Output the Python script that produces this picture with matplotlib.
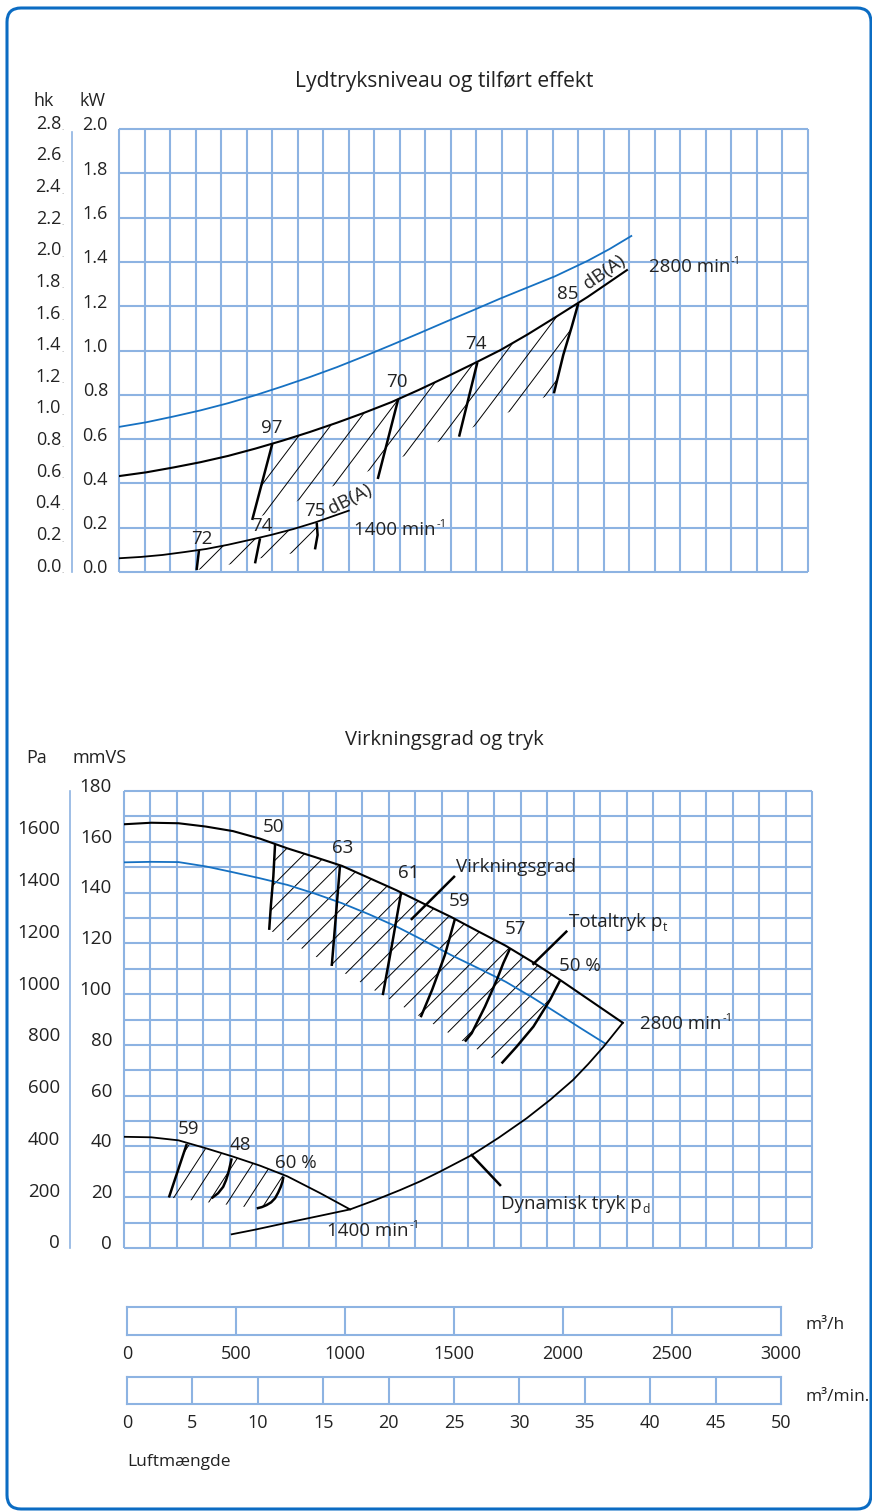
import numpy as np
import matplotlib
matplotlib.use("Agg")
import matplotlib.pyplot as plt
from matplotlib.patches import Polygon, FancyBboxPatch
from matplotlib.lines import Line2D
from matplotlib.transforms import Affine2D

plt.rcParams['font.family'] = ['Open Sans', 'DejaVu Sans']

GRID = '#8db3e2'
BLUE = '#1671c2'
FRAME = '#0b6cc3'
TXT = '#222222'

# ---------- top chart: power (kW) vs air flow (m3/h)
pw_blue_x = [0, 125, 250, 375, 500, 625, 750, 875, 1000, 1125, 1250, 1375, 1500,
             1625, 1750, 1875, 2000, 2150, 2250, 2350]
pw_blue_y = [0.655, 0.676, 0.702, 0.730, 0.762, 0.798, 0.838, 0.880, 0.925, 0.974,
             1.025, 1.077, 1.130, 1.182, 1.235, 1.285, 1.335, 1.405, 1.458, 1.517]
pw2800_x = [0, 125, 250, 375, 500, 625, 750, 875, 1000, 1125, 1250, 1375, 1500,
            1625, 1750, 1875, 2000, 2150, 2330]
pw2800_y = [0.433, 0.450, 0.472, 0.496, 0.524, 0.557, 0.593, 0.632, 0.674, 0.719,
            0.767, 0.822, 0.880, 0.940, 1.002, 1.073, 1.149, 1.242, 1.363]
pw1400_x = [0, 100, 200, 300, 400, 500, 600, 700, 800, 900, 1054]
pw1400_y = [0.062, 0.068, 0.077, 0.090, 0.104, 0.123, 0.145, 0.168, 0.194, 0.224, 0.277]

# sound level lines (dB(A)) on the 2800 curve
snd2800 = [
    ("97", [703, 611], [0.578, 0.235]),
    ("70", [1281, 1187], [0.781, 0.420]),
    ("74", [1644, 1560], [0.947, 0.611]),
    ("85", [2107, 2077, 2038, 1995], [1.213, 1.108, 0.980, 0.807]),
]
snd2800_low_x = [611]
snd2800_low_y = [0.235]
# sound level lines on the 1400 curve
snd1400 = [
    ("72", [367, 356], [0.099, 0.009]),
    ("74", [647, 624], [0.152, 0.039]),
    ("75", [907, 911, 899], [0.223, 0.167, 0.102]),
]
snd1400_low_x = [777, 647, 537, 356]
snd1400_low_y = [0.081, 0.062, 0.039, 0.009]

kw_ticks = np.arange(0, 2.01, 0.2)
hk_ticks = np.arange(0, 2.81, 0.2)

# ---------- bottom chart: pressure (mmVS) vs air flow (m3/h)
pt2800_x = [0, 125, 250, 375, 500, 625, 750, 875, 1000, 1125, 1250, 1375, 1500,
            1625, 1750, 1875, 2000, 2150, 2288]
pt2800_y = [166.9, 167.5, 167.3, 166.0, 164.2, 161.2, 157.4, 154.0, 150.5, 145.7,
            140.9, 135.6, 130.4, 124.7, 119.1, 112.6, 105.6, 96.8, 88.7]
ps2800_x = [0, 125, 250, 375, 500, 625, 750, 875, 1000, 1125, 1250, 1375, 1500,
            1625, 1750, 1875, 2000, 2100, 2206]
ps2800_y = [151.9, 152.1, 152.0, 150.3, 148.0, 145.6, 143.0, 139.6, 135.8, 131.4,
            126.6, 121.1, 115.4, 110.2, 104.9, 98.6, 91.8, 86.3, 80.6]
pt1400_x = [0, 125, 250, 375, 500, 625, 750, 900, 1037]
pt1400_y = [43.8, 43.6, 42.4, 39.3, 36.0, 32.4, 28.2, 21.6, 15.2]
pd_x = [494, 600, 750, 900, 1037, 1150, 1266, 1360, 1450, 1595, 1720, 1847, 1954,
        2060, 2130, 2199, 2288]
pd_y = [5.4, 7.2, 10.0, 12.7, 15.2, 18.8, 22.8, 26.3, 30.1, 36.6, 43.5, 51.1, 58.3,
        66.2, 72.5, 79.2, 88.7]

# efficiency lines (%)
eff2800 = [
    ("50", [693, 685, 674, 666], [159.1, 146.3, 135.1, 125.3]),
    ("63", [991, 953], [150.8, 111.1]),
    ("61", [1271, 1229, 1187], [139.9, 119.3, 99.6]),
    ("59", [1518, 1472, 1413, 1361], [129.6, 115.4, 101.6, 90.9]),
    ("57", [1771, 1740, 1710, 1656, 1595, 1564], [118.0, 112.2, 105.6, 95.1, 84.6, 81.3]),
    ("50 %", [2000, 1954, 1878, 1801, 1732], [105.3, 97.7, 87.2, 79.3, 72.7]),
]
eff2800_low_x = [666]
eff2800_low_y = [125.3]
eff1400 = [
    ("59", [288, 206], [41.0, 19.9]),
    ("48", [494, 486, 478, 468, 455, 432, 402], [35.3, 32.3, 29.4, 26.7, 24.1, 21.6, 19.6]),
    ("60 %", [731, 727, 719, 707, 693, 675, 654, 632, 609],
     [28.1, 26.1, 24.1, 21.8, 19.6, 18.0, 16.9, 16.1, 15.6]),
]
eff1400_low_x = [206]
eff1400_low_y = [19.9]

mm_ticks = np.arange(0, 181, 20)
pa_ticks = np.arange(0, 1601, 200)

flow_h_ticks = np.arange(0, 3001, 500)
flow_min_ticks = np.arange(0, 51, 5)

W, H = 872, 1512
fig = plt.figure(figsize=(W / 100, H / 100), dpi=100)
PIX = Affine2D().scale(1 / W, 1 / H) + fig.transFigure


def put(px, py, s, **kw):
    return fig.text(px / W, 1 - py / H, s, **kw)


def vline(px, py0, py1):
    fig.add_artist(Line2D([px / W, px / W], [1 - py0 / H, 1 - py1 / H],
                          transform=fig.transFigure, color=GRID, lw=1.2))


def sup(ax, x, y, base, s, fs, ha='left'):
    t = ax.text(x, y, base, fontsize=fs, color=TXT, ha=ha, va='center', zorder=4)
    ax.annotate(s, xy=(1, 0.48), xycoords=t, xytext=(0.5, 0), textcoords='offset points',
                fontsize=fs * 0.6, color=TXT, ha='left', va='bottom')


def sub(ax, x, y, base, s, fs):
    t = ax.text(x, y, base, fontsize=fs, color=TXT, ha='left', va='center', zorder=4)
    ax.annotate(s, xy=(1, 0.22), xycoords=t, xytext=(0.5, 0), textcoords='offset points',
                fontsize=fs * 0.65, color=TXT, ha='left', va='center')


def hatch(ax, xs, ys, step, angle, phase=0.0):
    verts = np.column_stack([xs, ys])
    poly = Polygon(verts, closed=True, facecolor='none', edgecolor='none',
                   transform=ax.transData)
    ax.add_patch(poly)
    d = ax.transData.transform(verts)
    x0, y0 = d.min(axis=0) - 2
    x1, y1 = d.max(axis=0) + 2
    run = (y1 - y0) / np.tan(np.radians(angle))
    inv = ax.transData.inverted()
    for c in np.arange(x0 - run + phase, x1 + step, step):
        p = inv.transform([[c, y0], [c + run, y1]])
        ln, = ax.plot(p[:, 0], p[:, 1], color='black', lw=0.7, zorder=2)
        ln.set_clip_path(poly)


def region(curve_x, curve_y, left, right, low_x, low_y):
    # along the curve between the two boundary lines, down the right one,
    # back along the lower envelope, up the left one
    lx, ly = left
    rx, ry = right
    xs, ys = [lx[0]], [ly[0]]
    for cx, cy in zip(curve_x, curve_y):
        if lx[0] < cx < rx[0]:
            xs.append(cx)
            ys.append(cy)
    xs += list(rx) + list(low_x) + list(lx[::-1])
    ys += list(ry) + list(low_y) + list(ly[::-1])
    return xs, ys


def grid(ax, xmax, ymax, ncol, ystep):
    ax.vlines(np.linspace(0, xmax, ncol + 1), 0, ymax, color=GRID, lw=1.5,
              clip_on=False, zorder=1)
    ax.hlines(np.arange(0, ymax + ystep / 2, ystep), 0, xmax, color=GRID, lw=1.5,
              clip_on=False, zorder=1)


# outer frame (pixel units)
fig.add_artist(FancyBboxPatch((7, 3), 864, 1501,
                              boxstyle='round,pad=0,rounding_size=14',
                              transform=PIX, fill=False,
                              edgecolor=FRAME, lw=2.2))

# ================= top chart =================
ax1 = fig.add_axes([119 / W, 1 - 572 / H, 689 / W, 443 / H])
X1 = 689 / 0.218
ax1.set_xlim(0, X1)
ax1.set_ylim(0, 2.0)
ax1.axis('off')
grid(ax1, X1, 2.0, 27, 0.2)

ax1.plot(pw_blue_x, pw_blue_y, color=BLUE, lw=1.3, zorder=3)
ax1.plot(pw2800_x, pw2800_y, color='black', lw=1.5, zorder=3)
ax1.plot(pw1400_x, pw1400_y, color='black', lw=1.3, zorder=3)

for lab, xs, ys in snd2800 + snd1400:
    ax1.plot(xs, ys, color='black', lw=1.8, zorder=3, solid_capstyle='butt')

hx, hy = region(pw2800_x, pw2800_y, snd2800[0][1:], snd2800[-1][1:],
                snd2800_low_x, snd2800_low_y)
hatch(ax1, hx, hy, 24, 53, 6)
hx, hy = region(pw1400_x, pw1400_y, snd1400[0][1:], snd1400[-1][1:],
                snd1400_low_x, snd1400_low_y)
hatch(ax1, hx, hy, 25, 45, 4)

for v in kw_ticks:
    ax1.text(-0.016, v + 0.016, f'{v:.1f}', transform=ax1.get_yaxis_transform(),
             ha='right', va='center', fontsize=13, color=TXT)
for h in hk_ticks:
    t = ax1.text(-0.084, h / 1.4 + 0.024, f'{h:.1f}', transform=ax1.get_yaxis_transform(),
                 ha='right', va='center', fontsize=13, color=TXT)
    ax1.annotate('.', xy=(1, 0.22), xycoords=t, fontsize=6, color='#888888',
                 ha='left', va='center')

lk = dict(fontsize=13.5, color=TXT, ha='center', va='center', zorder=4)
ax1.text(702, 0.650, '97', **lk)
ax1.text(1275, 0.858, '70', **lk)
ax1.text(1638, 1.029, '74', **lk)
ax1.text(2060, 1.255, '85', **lk)
ax1.text(2229, 1.356, 'dB(A)', rotation=35, rotation_mode='anchor', **lk)
sup(ax1, 2431, 1.377, '2800 min', '-1', 13.5)
ax1.text(381, 0.149, '72', **lk)
ax1.text(656, 0.208, '74', **lk)
ax1.text(899, 0.275, '75', **lk)
ax1.text(1062, 0.330, 'dB(A)', rotation=27, rotation_mode='anchor', **lk)
sup(ax1, 1078, 0.190, '1400 min', '-1', 13.5)

put(444, 82, 'Lydtryksniveau og tilført effekt', fontsize=15.2, ha='center',
    va='center', color=TXT)
put(44, 101, 'hk', fontsize=13, ha='center', va='center', color=TXT)
put(92, 101, 'kW', fontsize=13, ha='center', va='center', color=TXT)
vline(72, 132, 572)

# ================= bottom chart =================
ax2 = fig.add_axes([124 / W, 1 - 1248 / H, 688 / W, 457 / H])
X2 = 688 / 0.218
ax2.set_xlim(0, X2)
ax2.set_ylim(0, 180)
ax2.axis('off')
grid(ax2, X2, 180, 26, 10)

ax2.plot(ps2800_x, ps2800_y, color=BLUE, lw=1.3, zorder=3)
ax2.plot(pt2800_x, pt2800_y, color='black', lw=1.5, zorder=3)
ax2.plot(pt1400_x, pt1400_y, color='black', lw=1.3, zorder=3)
ax2.plot(pd_x, pd_y, color='black', lw=1.3, zorder=3)

for lab, xs, ys in eff2800 + eff1400:
    ax2.plot(xs, ys, color='black', lw=1.8, zorder=3, solid_capstyle='butt')

hx, hy = region(pt2800_x, pt2800_y, eff2800[0][1:], eff2800[-1][1:],
                eff2800_low_x, eff2800_low_y)
hatch(ax2, hx, hy, 23, 45, 3)
hx, hy = region(pt1400_x, pt1400_y, eff1400[0][1:], eff1400[-1][1:],
                eff1400_low_x, eff1400_low_y)
hatch(ax2, hx, hy, 19, 57, 5)

# leader lines
ax2.plot([1514, 1320], [146.2, 129.6], color='black', lw=1.8, zorder=3)
ax2.plot([2029, 1878], [124.6, 111.9], color='black', lw=1.8, zorder=3)
ax2.plot([1595, 1725], [36.6, 24.8], color='black', lw=1.8, zorder=3)

for v in mm_ticks:
    ax2.text(-0.0174, v + 1.6, f'{v}', transform=ax2.get_yaxis_transform(),
             ha='right', va='center', fontsize=13.5, color=TXT)
for p in pa_ticks:
    ax2.text(-0.093, p / 9.81 + 1.8, f'{p}', transform=ax2.get_yaxis_transform(),
             ha='right', va='center', fontsize=13.5, color=TXT)

lk2 = dict(fontsize=13.5, color=TXT, ha='center', va='center', zorder=4)
ax2.text(688, 165.8, '50', **lk2)
ax2.text(1005, 157.5, '63', **lk2)
ax2.text(1307, 147.7, '61', **lk2)
ax2.text(1541, 136.7, '59', **lk2)
ax2.text(1794, 125.6, '57', **lk2)
ax2.text(2092, 111.1, '50 %', **lk2)
ax2.text(298, 46.9, '59', **lk2)
ax2.text(532, 40.6, '48', **lk2)
ax2.text(789, 33.5, '60 %', **lk2)
ax2.text(1523, 150.1, 'Virkningsgrad', fontsize=13.5, color=TXT, ha='left',
         va='center', zorder=4)
sub(ax2, 2041, 128.4, 'Totaltryk p', 't', 13.5)
sup(ax2, 2367, 88.2, '2800 min', '-1', 13.5)
sup(ax2, 931, 6.7, '1400 min', '-1', 13.5)
sub(ax2, 1729, 17.3, 'Dynamisk tryk p', 'd', 13.5)

put(444, 740, 'Virkningsgrad og tryk', fontsize=14.5, ha='center', va='center',
    color=TXT)
put(37, 758, 'Pa', fontsize=13, ha='center', va='center', color=TXT)
put(100, 758, 'mmVS', fontsize=13, ha='center', va='center', color=TXT)
vline(70, 791, 1248)


# ================= flow scales =================
def scale_bar(py_top, py_bot, ticks, unit, unit_py):
    ax = fig.add_axes([127 / W, 1 - py_bot / H, 654 / W, (py_bot - py_top) / H])
    ax.set_xlim(ticks[0], ticks[-1])
    ax.set_ylim(0, 1)
    for s in ax.spines.values():
        s.set_color(GRID)
        s.set_linewidth(1.5)
    ax.vlines(ticks[1:-1], 0, 1, color=GRID, lw=1.5)
    ax.set_yticks([])
    ax.set_xticks(ticks)
    ax.set_xticklabels([str(t) for t in ticks], fontsize=13, color=TXT)
    ax.tick_params(axis='x', length=0, pad=7)
    put(805, unit_py, unit, fontsize=12.5, ha='left', va='center', color=TXT)


scale_bar(1307, 1335, flow_h_ticks, 'm³/h', 1325)
scale_bar(1377, 1404, flow_min_ticks, 'm³/min.', 1397)
put(127, 1462, 'Luftmængde', fontsize=12.5, ha='left', va='center', color=TXT)

fig.savefig('out.png', dpi=100)
